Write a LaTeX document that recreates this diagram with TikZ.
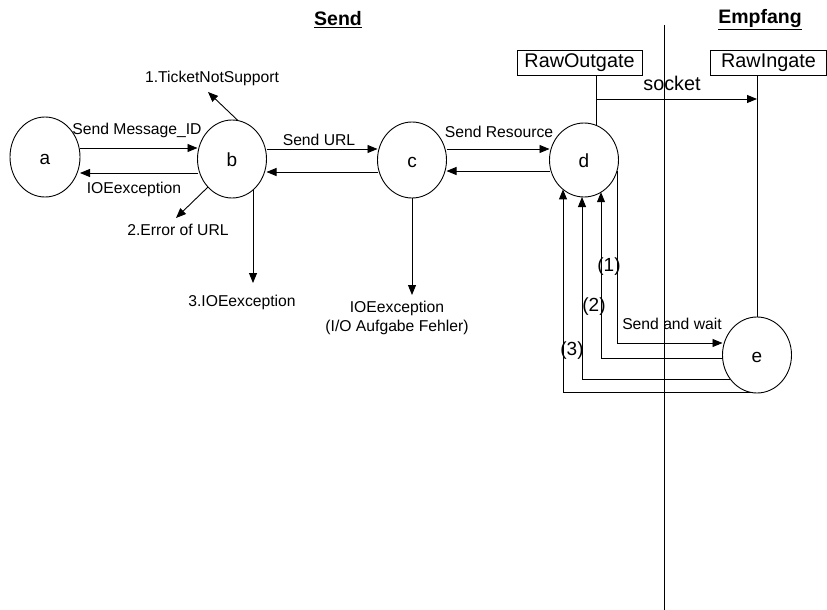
\documentclass[tikz,border=0pt]{standalone}
\usepackage{fontspec}
\setmainfont{Liberation Sans}
\usetikzlibrary{arrows.meta,shapes.geometric}
\begin{document}
\begin{tikzpicture}[x=1pt,y=-1pt,
  line width=0.9pt,
  arr/.style={-{Triangle[length=10pt,width=8pt]}},
  state/.style={ellipse,draw,inner sep=0pt,outer sep=0pt,
    font=\fontsize{19}{19}\selectfont,text height=14pt,text depth=0pt},
  small/.style={font=\fontsize{15.7}{18}\selectfont,inner sep=0pt,anchor=base},
  big/.style={font=\fontsize{19.8}{22}\selectfont,inner sep=0pt,anchor=base},
  gate/.style={draw,inner sep=0pt,font=\fontsize{19.8}{22}\selectfont},
  title/.style={font=\fontsize{19.5}{22}\selectfont\bfseries,inner sep=0pt,anchor=base}]
\useasboundingbox (0,0) rectangle (827,610);

% titles and the dividing line
\node[title] (tsend) at (338,26) {\underline{Send}};
\node[title] (tempf) at (760,24) {\underline{Empfang}};
\coordinate (vtop) at (664,25);
\coordinate (vbot) at (664,610);
\draw (vtop) -- (vbot);

% states
\node[state,minimum width=70pt,minimum height=80pt] (a) at (45,157) {a};
\node[state,minimum width=69pt,minimum height=78pt] (b) at (232,159) {b};
\node[state,minimum width=69pt,minimum height=76pt] (c) at (412,160) {c};
\node[state,minimum width=69pt,minimum height=74pt] (d) at (584,160) {d};
\node[state,minimum width=69pt,minimum height=76pt] (e) at (757,355) {e};

% gates
\node[gate,minimum width=125pt,minimum height=25pt] (rawout) at (579.5,62.5) {RawOutgate};
\node[gate,minimum width=116pt,minimum height=25pt] (rawin) at (768.5,62.5) {RawIngate};

% a <-> b
\draw[arr] (a.east |- 0,148) -- (b.west |- 0,148);
\draw[arr] (b.west |- 0,173) -- (a.east |- 0,173);
\node[small] (lsmid) at (137,134) {Send Message\_ID};
\node[small] (lioa) at (134,193) {IOEexception};

% b errors
\coordinate (t1) at (208,92);
\coordinate (t2) at (176,218);
\coordinate (t3) at (253,283);
\draw[arr] ([xshift=6pt,yshift=38.4pt]b.center) -- (t1);
\draw[arr] ([xshift=-24pt,yshift=-28pt]b.center) -- (t2);
\draw[arr] ([xshift=21pt,yshift=-31pt]b.center) -- (t3);
\node[small] (l1) at (212,82) {1.TicketNotSupport};
\node[small] (l2) at (178,235) {2.Error of URL};
\node[small] (l3) at (242,306) {3.IOEexception};

% b <-> c
\draw[arr] (b.east |- 0,149) -- (c.west |- 0,149);
\draw[arr] (c.west |- 0,172) -- (b.east |- 0,172);
\node[small] (lurl) at (319,145) {Send URL};

% c error
\coordinate (tc) at (412,295);
\draw[arr] (c.south) -- (tc);
\node[small] (lioc) at (397,312) {IOEexception};
\node[small] (lioc2) at (397,331) {(I/O Aufgabe Fehler)};

% c <-> d
\draw[arr] (c.east |- 0,149) -- (d.west |- 0,149);
\draw[arr] (d.west |- 0,171) -- (c.east |- 0,171);
\node[small] (lres) at (499,137) {Send Resource};

% socket
\draw ([xshift=16.5pt]rawout.south) -- ([xshift=12pt,yshift=34.7pt]d.center);
\coordinate (s0) at (596,99);
\draw[arr] (s0) -- (s0 -| e.north);
\draw (rawin.south -| e.north) -- (e.north);
\node[big] (lsock) at (672,90) {socket};

% d <-> e
\draw[arr] ([xshift=33pt,yshift=-11pt]d.center) |- ([yshift=12pt]e.west);
\draw[arr] ([yshift=-3pt]e.west) -| ([xshift=17pt,yshift=-32.2pt]d.center);
\draw[arr] ([xshift=-26.7pt,yshift=-24pt]e.center) -| ([xshift=-2pt,yshift=-37pt]d.center);
\draw[arr] ([xshift=-6pt,yshift=-37pt]e.center) -| ([xshift=-21pt,yshift=-29.4pt]d.center);
\node[small] (lwait) at (672,329) {Send and wait};
\node[font=\fontsize{19}{22}\selectfont,inner sep=0pt,anchor=base] (n1) at (609,271) {(1)};
\node[font=\fontsize{19}{22}\selectfont,inner sep=0pt,anchor=base] (n2) at (594,311) {(2)};
\node[font=\fontsize{19}{22}\selectfont,inner sep=0pt,anchor=base] (n3) at (572,355) {(3)};
\end{tikzpicture}
\end{document}
